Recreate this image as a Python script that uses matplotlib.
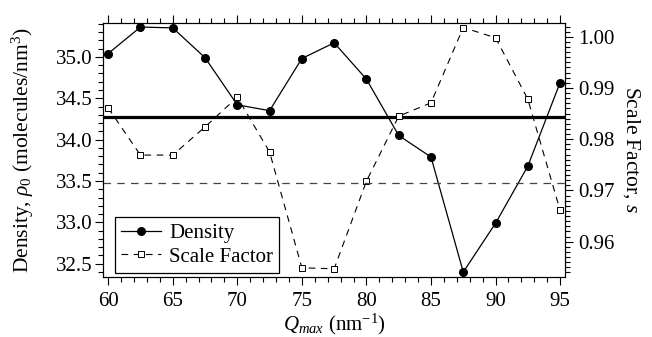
import numpy as np
import matplotlib
matplotlib.use("Agg")
import matplotlib.pyplot as plt
from matplotlib.ticker import MultipleLocator, FormatStrFormatter

plt.rcParams["font.family"] = "Liberation Serif"
plt.rcParams["mathtext.fontset"] = "custom"
plt.rcParams["mathtext.rm"] = "Liberation Serif"
plt.rcParams["mathtext.it"] = "Liberation Serif:italic"
plt.rcParams["axes.linewidth"] = 0.8

# ---- data ----
qmax = [60, 62.5, 65, 67.5, 70, 72.5, 75, 77.5, 80, 82.5, 85, 87.5, 90, 92.5, 95]
density = [35.04, 35.36, 35.35, 34.99, 34.42, 34.35, 34.98, 35.17, 34.73,
           34.05, 33.79, 32.40, 32.99, 33.68, 34.69]
scale = [0.9861, 0.9769, 0.9769, 0.9824, 0.9882, 0.9775, 0.9549, 0.9547,
         0.9718, 0.9845, 0.9871, 1.0018, 0.9998, 0.9878, 0.9661]
density_mean = 34.27
scale_ref = 0.9714

fig = plt.figure(figsize=(6.52, 3.37), dpi=100)
ax = fig.add_axes([0.158, 0.178, 0.709, 0.754])
ax2 = ax.twinx()

ax.plot(qmax, density, "k-", marker="o", ms=5.5, lw=0.9, label="Density", zorder=3)
ax2.plot(qmax, scale, color="k", ls=(0, (6, 5)), lw=0.8, marker="s", ms=4.5,
         mfc="white", mec="k", mew=0.7, label="Scale Factor")
ax.axhline(density_mean, color="k", lw=2.3)
ax2.axhline(scale_ref, color="#444444", ls=(0, (6, 5)), lw=0.9)

ax.set_xlim(59.6, 95.4)
ax.set_ylim(32.34, 35.41)
ax2.set_ylim(0.9531, 1.0027)

ax.xaxis.set_major_locator(MultipleLocator(5))
ax.xaxis.set_minor_locator(MultipleLocator(1))
ax.yaxis.set_major_locator(MultipleLocator(0.5))
ax.yaxis.set_minor_locator(MultipleLocator(0.1))
ax.yaxis.set_major_formatter(FormatStrFormatter("%.1f"))
ax2.yaxis.set_major_locator(MultipleLocator(0.01))
ax2.yaxis.set_minor_locator(MultipleLocator(0.001))
ax2.yaxis.set_major_formatter(FormatStrFormatter("%.2f"))

for a in (ax, ax2):
    a.tick_params(which="both", direction="out", labelsize=15, width=0.8)
    a.tick_params(which="major", length=6)
    a.tick_params(which="minor", length=3.5)
ax.tick_params(which="both", top=True)
ax.tick_params(axis="x", pad=5)
ax.tick_params(axis="y", pad=1.5)
ax2.tick_params(axis="y", pad=3)

ax.set_xlabel(r"$Q_{max}$ (nm$^{-1}$)", fontsize=15, labelpad=0)
ax.set_ylabel(r"Density, $\rho_0$ (molecules/nm$^3$)", fontsize=15.5, labelpad=14)
ax2.set_ylabel(r"Scale Factor, $s$", fontsize=15.5, rotation=270, labelpad=20)

h1, l1 = ax.get_legend_handles_labels()
h2, l2 = ax2.get_legend_handles_labels()
leg = ax2.legend(h1 + h2, l1 + l2, loc="lower left", bbox_to_anchor=(0.026, 0.016),
                 borderaxespad=0, fontsize=15, frameon=True, fancybox=False,
                 edgecolor="k", framealpha=1, handlelength=1.9, handletextpad=0.4,
                 borderpad=0.3, labelspacing=0.2)
leg.get_frame().set_linewidth(0.9)

fig.savefig("out.png", dpi=100)
